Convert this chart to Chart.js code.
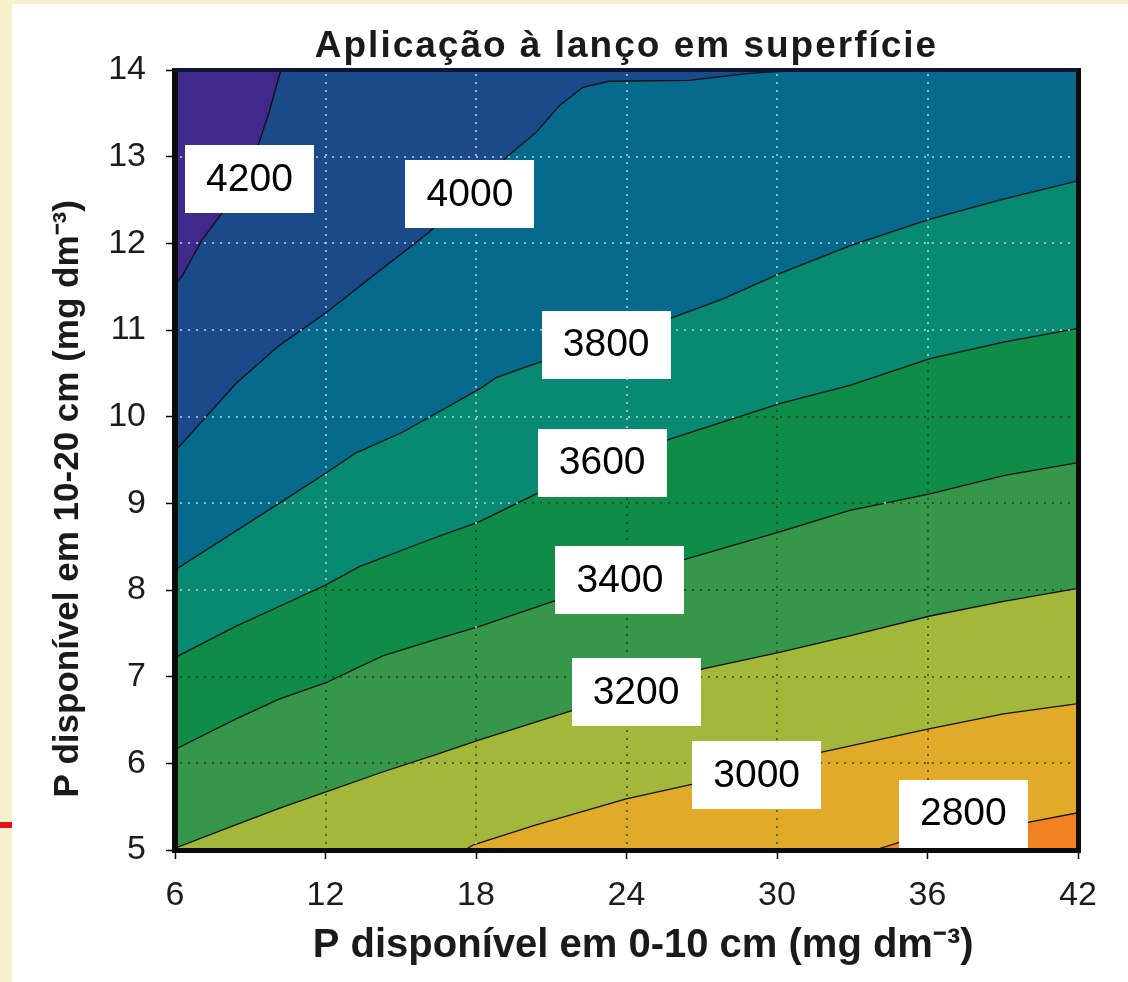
<!DOCTYPE html>
<html><head><meta charset="utf-8">
<script src="https://cdn.jsdelivr.net/npm/chart.js@4"></script>
<style>
html,body{margin:0;padding:0;background:#F5F2CB;width:1128px;height:982px;overflow:hidden}
#panel{position:absolute;left:12px;top:4px;width:1116px;height:978px;background:#fff}
#redline{position:absolute;left:0;top:822px;width:12px;height:6px;background:#E8121B}
canvas{display:block}
</style></head><body>
<div id="redline"></div>
<div id="panel"><canvas id="c" width="1116" height="978"></canvas></div>
<script>
// ---- data ----
const xTicks = [6, 12, 18, 24, 30, 36, 42];
const yTicks = [5, 6, 7, 8, 9, 10, 11, 12, 13, 14];
const levels = [4200, 4000, 3800, 3600, 3400, 3200, 3000, 2800];

// contour lines, [x, y] pairs (x = P 0-10 cm, y = P 10-20 cm)
const c4200 = [[6,11.52],[6.3,11.63],[7.1,12.05],[7.9,12.36],[9.35,13.16],[9.75,13.51],[10.22,14],[42,14]];
const c4000 = [[6,9.6],[8.42,10.38],[10.15,10.82],[12.02,11.2],[13.74,11.59],[16.14,12.13],[19.2,12.99],[20.4,13.28],[21.33,13.59],[22.26,13.8],[23.3,13.87],[26.5,13.88],[28.9,13.96],[31,14],[42,14]];
const c3800 = [[6,8.23],[10.15,9.0],[12.02,9.35],[13.2,9.58],[15.07,9.82],[18.14,10.32],[18.8,10.45],[20.26,10.6],[25.72,11.13],[27.85,11.36],[30.1,11.65],[32.9,11.97],[36.1,12.28],[39.03,12.51],[42,12.72]];
const c3600 = [[6,7.22],[8.42,7.58],[10.15,7.81],[12.02,8.06],[13.35,8.27],[16.14,8.58],[18.14,8.79],[20.4,9.11],[25.6,9.73],[30.1,10.15],[32.9,10.36],[36.1,10.67],[39.03,10.86],[42,11.02]];
const c3400 = [[6,6.16],[8.42,6.51],[10.15,6.74],[12.02,6.93],[14.28,7.24],[16.4,7.43],[18.14,7.58],[21.07,7.87],[26.4,8.36],[30.1,8.67],[32.9,8.92],[36.1,9.11],[39.03,9.32],[42,9.47]];
const c3200 = [[6,5.02],[8.42,5.29],[10.15,5.48],[12.02,5.67],[14.28,5.9],[16.4,6.1],[18.14,6.27],[21.73,6.6],[27.05,7.09],[30.1,7.28],[32.9,7.47],[36.1,7.7],[39.03,7.87],[42,8.02]];
const c3000 = [[6,5],[17.55,5],[17.9,5.06],[20.4,5.29],[23.99,5.59],[26.65,5.76],[31.78,6.13],[36.1,6.4],[39.03,6.57],[42,6.69]];
const c2800 = [[6,5],[33.9,5],[34.9,5.09],[40.0,5.32],[42,5.43]];

// contour label positions (data units)
const labelX = [8.97, 17.76, 23.19, 23.03, 23.74, 24.38, 29.19, 37.43];
const labelY = [12.74, 12.57, 10.83, 9.47, 8.11, 6.82, 5.86, 5.42];

// ---- styling ----
const contours = [c4200, c4000, c3800, c3600, c3400, c3200, c3000, c2800];
const fillAbove = ['#40298A', '#1B4A8A', '#066A8C', '#088A72', '#0E8C48', '#36974A', '#A3B83B', '#E1AA29'];
const fillBelowAll = '#F2821F';
const FONT = "'Liberation Sans', Arial, Helvetica, sans-serif";
Chart.defaults.font.family = FONT;

const bgPlugin = {
  id: 'bgArea',
  beforeDatasetsDraw(chart) {
    const {ctx, chartArea: a} = chart;
    ctx.save();
    ctx.fillStyle = fillBelowAll;
    ctx.fillRect(a.left, a.top, a.right - a.left, a.bottom - a.top);
    ctx.restore();
  }
};

const overlayPlugin = {
  id: 'overlay',
  afterDatasetsDraw(chart) {
    const {ctx, chartArea: a, scales: {x, y}} = chart;
    const L = Math.round(a.left), T = Math.round(a.top);
    const W = Math.round(a.right - a.left), H = Math.round(a.bottom - a.top);
    const img = ctx.getImageData(L, T, W, H).data;
    ctx.save();
    const dot = (px, py) => {
      const ix = Math.round(px) - L, iy = Math.round(py) - T;
      if (ix < 0 || iy < 0 || ix >= W || iy >= H) return;
      const k = (iy * W + ix) * 4;
      const g = img[k + 1], b = img[k + 2];
      const dark = g > b + 45;
      ctx.fillStyle = dark ? 'rgba(25,45,20,0.6)' : 'rgba(190,225,240,0.7)';
      ctx.fillRect(Math.round(px) - 1, Math.round(py) - 1, 2, 2);
    };
    xTicks.slice(1, -1).forEach(v => {
      const px = x.getPixelForValue(v);
      for (let py = a.top + 5; py < a.bottom - 3; py += 8) dot(px, py);
    });
    yTicks.slice(1, -1).forEach(v => {
      const py = y.getPixelForValue(v);
      for (let px = a.left + 6; px < a.right - 3; px += 8) dot(px, py);
    });
    // contour labels
    ctx.font = '39px ' + FONT;
    ctx.textAlign = 'center';
    ctx.textBaseline = 'middle';
    levels.forEach((lv, i) => {
      const cx = x.getPixelForValue(labelX[i]);
      const cy = y.getPixelForValue(labelY[i]);
      ctx.fillStyle = '#ffffff';
      ctx.fillRect(Math.round(cx - 64.5), Math.round(cy - 34), 129, 68);
      ctx.fillStyle = '#000000';
      ctx.fillText(String(lv), cx, cy + 1);
    });
    // frame
    ctx.fillStyle = '#0b0b0b';
    ctx.fillRect(a.left - 3, a.top - 2, 6, a.bottom - a.top + 5);
    ctx.fillRect(a.left - 3, a.bottom - 2, a.right - a.left + 6, 5);
    ctx.fillRect(a.right - 2, a.top - 2, 5, a.bottom - a.top + 5);
    ctx.fillStyle = '#0e1530';
    ctx.fillRect(a.left, a.top - 2, a.right - a.left, 4);
    ctx.restore();
  }
};

const chart = new Chart(document.getElementById('c'), {
  type: 'line',
  data: {
    datasets: contours.map((c, i) => ({
      label: String(levels[i]),
      data: c.map(([px, py]) => ({x: px, y: py})),
      fill: 'end',
      backgroundColor: fillAbove[i],
      borderColor: '#111111',
      borderWidth: 1.3,
      pointRadius: 0,
      tension: 0
    }))
  },
  options: {
    responsive: false,
    animation: false,
    devicePixelRatio: 1,
    layout: {padding: {left: 0, right: 50, top: 0, bottom: 0}},
    plugins: {
      legend: {display: false},
      tooltip: {enabled: false},
      title: {
        display: true,
        fullSize: false,
        text: 'Aplicação à lanço em superfície',
        color: '#1a1a1a',
        font: {size: 37, weight: 'bold', family: FONT, lineHeight: 1.2},
        padding: {top: 20.8, bottom: 0.8}
      }
    },
    scales: {
      x: {
        type: 'linear', min: 6, max: 42,
        afterBuildTicks: s => { s.ticks = xTicks.map(v => ({value: v})); },
        afterFit: s => { s.height = 132; },
        border: {display: false},
        grid: {drawOnChartArea: false, drawTicks: true, tickLength: 9, tickColor: '#000', tickWidth: 1.5},
        ticks: {color: '#1c1c1c', font: {size: 34}, padding: 16.6, maxRotation: 0, autoSkip: false},
        title: {
          display: true,
          text: '\u00a0\u00a0\u00a0P disponível em 0-10 cm (mg dm\u207B\u00B3)',
          color: '#1a1a1a',
          font: {size: 40, weight: 'bold'},
          padding: {top: 0, bottom: 12}
        }
      },
      y: {
        type: 'linear', min: 5, max: 14,
        afterBuildTicks: s => { s.ticks = yTicks.map(v => ({value: v})); },
        afterFit: s => { s.width = 163; },
        border: {display: false},
        grid: {drawOnChartArea: false, drawTicks: true, tickLength: 9, tickColor: '#000', tickWidth: 1.5},
        ticks: {color: '#1c1c1c', font: {size: 34}, padding: 20},
        title: {
          display: true,
          text: 'P disponível em 10-20 cm (mg dm\u207B\u00B3)' + '\u00a0'.repeat(8),
          color: '#1a1a1a',
          font: {size: 35, weight: 'bold'},
          padding: {top: 35, bottom: 0}
        }
      }
    }
  },
  plugins: [bgPlugin, overlayPlugin]
});

// slightly spaced-out title lettering, like the reference
if (chart.titleBlock) {
  const tb = chart.titleBlock;
  const origDraw = tb.draw.bind(tb);
  tb.draw = function () {
    const c = chart.ctx;
    const prev = c.letterSpacing;
    c.letterSpacing = '2px';
    origDraw();
    c.letterSpacing = prev || '0px';
  };
  chart.draw();
}
</script>
</body></html>
